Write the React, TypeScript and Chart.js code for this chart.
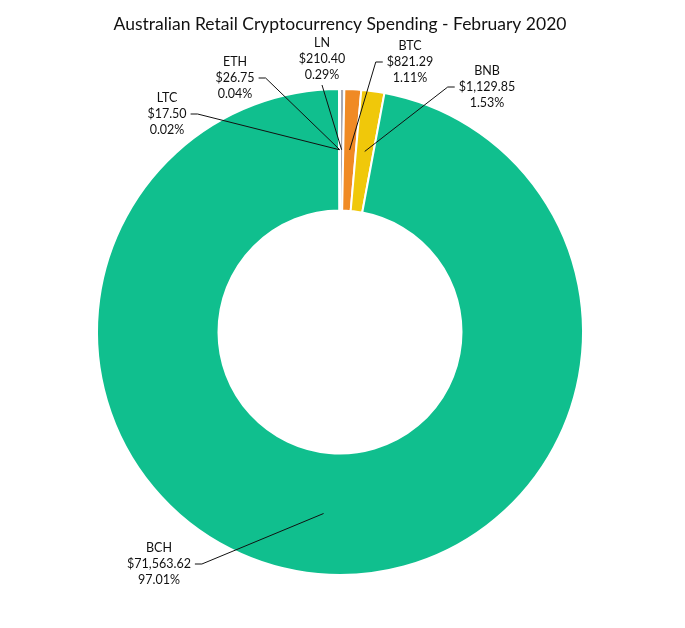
import { useEffect, useRef } from "react";
import { Chart, registerables } from "chart.js";

Chart.register(...registerables);

const coins = ["LN", "BTC", "BNB", "BCH", "LTC", "ETH"];
const spending = [210.4, 821.29, 1129.85, 71563.62, 17.5, 26.75];
const shares = ["0.29%", "1.11%", "1.53%", "97.01%", "0.02%", "0.04%"];
const colors = ["#a8a9b3", "#f08a24", "#f0c80a", "#10bf8e", "#10bf8e", "#10bf8e"];

// where each data label sits, relative to the doughnut centre
const labelSpots = [
  { dx: -18, dy: -273, side: "bottom" },
  { dx: 70, dy: -270, side: "left" },
  { dx: 147, dy: -245, side: "left" },
  { dx: -181, dy: 232, side: "right" },
  { dx: -173, dy: -218, side: "right" },
  { dx: -105, dy: -254, side: "right" },
];

const labelFont = "12.5px Lato";
const lineGap = 16;

const leaderLabels = {
  id: "leaderLabels",
  afterDatasetsDraw(chart: Chart) {
    const ctx = chart.ctx;
    const meta = chart.getDatasetMeta(0);
    ctx.save();
    ctx.font = labelFont;
    ctx.fillStyle = "#111";
    ctx.strokeStyle = "#111";
    ctx.lineWidth = 1;
    ctx.textAlign = "center";
    ctx.textBaseline = "middle";
    meta.data.forEach((arc: any, i) => {
      const spot = labelSpots[i];
      const cx = arc.x + spot.dx;
      const cy = arc.y + spot.dy;
      const lines = [
        coins[i],
        "$" + spending[i].toLocaleString("en-US", { minimumFractionDigits: 2, maximumFractionDigits: 2 }),
        shares[i],
      ];
      lines.forEach((t, k) => ctx.fillText(t, cx, cy + (k - 1) * lineGap));
      const w = Math.max(...lines.map((t) => ctx.measureText(t).width));
      const end = arc.getCenterPoint();
      ctx.beginPath();
      if (spot.side === "bottom") {
        ctx.moveTo(cx, cy + lineGap + 10);
      } else {
        const dir = spot.side === "right" ? 1 : -1;
        const sx = cx + dir * (w / 2 + 4);
        ctx.moveTo(sx, cy);
        ctx.lineTo(sx + dir * 7, cy);
      }
      ctx.lineTo(end.x, end.y);
      ctx.stroke();
    });
    ctx.restore();
  },
};

export default function App() {
  const canvasRef = useRef<HTMLCanvasElement>(null);

  useEffect(() => {
    const chart = new Chart(canvasRef.current!, {
      type: "doughnut",
      data: {
        labels: coins,
        datasets: [
          {
            data: spending,
            backgroundColor: colors,
            borderColor: "#ffffff",
            borderWidth: 2,
          },
        ],
      },
      options: {
        responsive: true,
        maintainAspectRatio: false,
        animation: false,
        cutout: "50%",
        layout: { padding: { top: 0, left: 96, right: 101, bottom: 52 } },
        plugins: {
          legend: { display: false },
          tooltip: { enabled: false },
          title: {
            display: true,
            text: "Australian Retail Cryptocurrency Spending - February 2020",
            color: "#111",
            font: { family: "Lato", size: 17.5, weight: "normal" },
            padding: { top: 14, bottom: 53 },
          },
        },
      },
      plugins: [leaderLabels],
    });

    return () => chart.destroy();
  }, []);

  return (
    <>
      <style>{`body { margin: 0; }`}</style>
      <div style={{ position: "relative", width: 685, height: 628 }}>
        <canvas ref={canvasRef}></canvas>
      </div>
    </>
  );
}
